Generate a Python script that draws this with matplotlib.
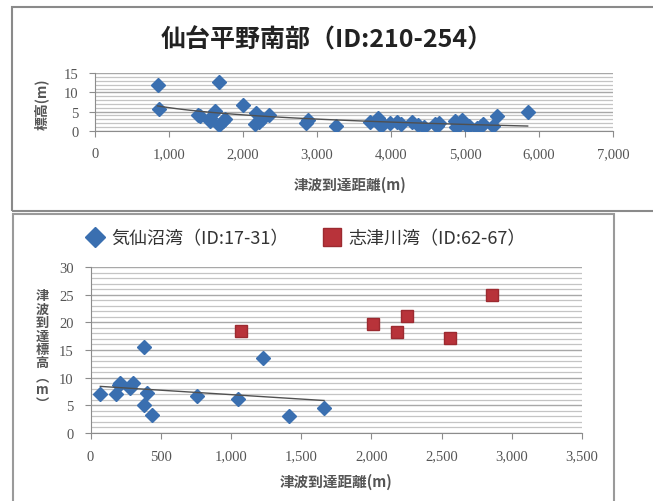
import numpy as np
import matplotlib
matplotlib.use("Agg")
import matplotlib.pyplot as plt
from matplotlib.patches import Rectangle
from matplotlib.ticker import MultipleLocator, FuncFormatter

plt.rcParams['font.family'] = ['Noto Sans CJK JP', 'DejaVu Sans']

# ── data ───────────────────────────────────────────────────────────────────────
sendai_x = [846, 868, 1390, 1420, 1552, 1560, 1620, 1669, 1678, 1732,
            1750, 2002, 2168, 2182, 2213, 2250, 2348, 2848, 2884, 3257,
            3716, 3830, 3842, 3861, 3986, 4077, 4131, 4284, 4369, 4446,
            4600, 4617, 4653, 4860, 4878, 4920, 4955, 5000, 5058, 5158,
            5220, 5248, 5383, 5432, 5847]
sendai_y = [11.9, 5.7, 4.2, 3.8, 3.2, 2.5, 5.1, 1.5, 12.6, 2.6,
            3.0, 6.6, 1.7, 4.6, 2.4, 3.0, 4.2, 2.0, 2.8, 1.2,
            2.2, 3.3, 2.9, 1.3, 2.0, 2.2, 1.75, 2.2, 1.5, 0.9,
            1.8, 1.3, 2.0, 2.6, 0.9, 1.5, 2.9, 1.75, 1.3, 0.6,
            1.3, 1.75, 1.3, 3.9, 5.0]

kesen_x = [70, 185, 205, 210, 278, 301, 378, 378, 399, 440, 759, 1048, 1226, 1415, 1663]
kesen_y = [7.0, 7.0, 8.7, 9.1, 8.1, 9.1, 15.5, 5.0, 7.3, 3.2, 6.6, 6.1, 13.5, 3.0, 4.5]

shizu_x = [1072, 2011, 2185, 2253, 2558, 2862]
shizu_y = [18.5, 19.7, 18.2, 21.1, 17.1, 24.9]

title_top = "仙台平野南部（ID:210-254）"
label_kesen = "気仙沼湾（ID:17-31）"
label_shizu = "志津川湾（ID:62-67）"
xlabel = "津波到達距離(m)"
ylabel_top = "標高(m)"
ylabel_bottom = "津\n波\n到\n達\n標\n高\n︵\nm\n︶"

BLUE = "#3a6fb0"
RED = "#b8333a"
GRID = "#c4c4c4"
GRID_MAJOR = "#a8a8a8"
TXT = "#555555"
SERIF = ['Liberation Serif', 'DejaVu Serif']

W, H = 653, 502
fig = plt.figure(figsize=(W / 100, H / 100), dpi=100)


def fx(px):
    return px / W


def fy(py):
    return 1 - py / H


# panel frames
fig.add_artist(Rectangle((fx(12), fy(212)), fx(660) - fx(12), fy(8) - fy(212),
                         transform=fig.transFigure, fill=False,
                         edgecolor="#8a8a8a", lw=1.5))
fig.add_artist(Rectangle((fx(13), fy(520)), fx(614) - fx(13), fy(215) - fy(520),
                         transform=fig.transFigure, fill=False,
                         edgecolor="#9a9a9a", lw=1.5))


def style_axes(ax, ymax, xstep, xmax):
    ax.set_ylim(0, ymax)
    ax.set_xlim(0, xmax)
    ax.yaxis.set_major_locator(MultipleLocator(5))
    ax.yaxis.set_minor_locator(MultipleLocator(1))
    ax.xaxis.set_major_locator(MultipleLocator(xstep))
    ax.xaxis.set_major_formatter(FuncFormatter(lambda v, p: f"{int(v):,}"))
    ax.grid(axis="y", which="minor", color=GRID, lw=0.9)
    ax.grid(axis="y", which="major", color=GRID_MAJOR, lw=1.0)
    ax.set_axisbelow(True)
    for s in ("top", "right"):
        ax.spines[s].set_visible(False)
    for s in ("left", "bottom"):
        ax.spines[s].set_color("#8c8c8c")
    ax.tick_params(which="major", length=4, color="#8c8c8c", labelcolor=TXT,
                   labelsize=10.5, pad=8)
    ax.tick_params(axis="y", which="minor", length=0)
    for lab in ax.get_xticklabels() + ax.get_yticklabels():
        lab.set_family(SERIF)


# ── top: 仙台平野南部 ───────────────────────────────────────────────────────────
ax1 = fig.add_axes([fx(95), fy(131.7), fx(613) - fx(95), fy(74.3) - fy(131.7)])
style_axes(ax1, 15, 1000, 7000)
ax1.plot(sendai_x, sendai_y, "D", color=BLUE, ms=7, mec=BLUE, zorder=3)
b, a = np.polyfit(np.log(sendai_x), sendai_y, 1)
xt = np.linspace(min(sendai_x), max(sendai_x), 100)
ax1.plot(xt, a + b * np.log(xt), color="#505050", lw=1.0, zorder=4)
for lab in ax1.get_xticklabels() + ax1.get_yticklabels():
    lab.set_family(SERIF)

fig.text(fx(327), fy(40), title_top, ha="center", va="center",
         fontsize=18, fontweight="bold", color="#222222")
fig.text(fx(350), fy(185), xlabel, ha="center", va="center",
         fontsize=10.5, fontweight="bold", color=TXT)
fig.text(fx(41), fy(104), ylabel_top, ha="center", va="center",
         rotation=90, fontsize=10, fontweight="bold", color=TXT)

# ── bottom: 気仙沼湾 / 志津川湾 ─────────────────────────────────────────────────
ax2 = fig.add_axes([fx(90.5), fy(434), fx(582) - fx(90.5), fy(268) - fy(434)])
style_axes(ax2, 30, 500, 3500)
ax2.plot(kesen_x, kesen_y, "D", color=BLUE, ms=7, mec=BLUE, zorder=3,
         label=label_kesen)
ax2.plot(shizu_x, shizu_y, "s", color=RED, ms=9, mec="#9c2a30", zorder=3,
         label=label_shizu)
m, c = np.polyfit(kesen_x, kesen_y, 1)
xl = np.array([min(kesen_x), max(kesen_x)])
ax2.plot(xl, m * xl + c, color="#505050", lw=1.0, zorder=4)
for lab in ax2.get_xticklabels() + ax2.get_yticklabels():
    lab.set_family(SERIF)

fig.legend(handles=ax2.get_lines()[:2], loc="center", ncol=2,
           bbox_to_anchor=(fx(307), fy(239)), frameon=False,
           fontsize=13, handlelength=0.8, handletextpad=0.5, columnspacing=2.0,
           markerscale=1.5, labelcolor="#333333")
fig.text(fx(336), fy(482), xlabel, ha="center", va="center",
         fontsize=10.5, fontweight="bold", color=TXT)
fig.text(fx(42), fy(350), ylabel_bottom, ha="center", va="center",
         fontsize=9.5, fontweight="bold", color=TXT, linespacing=0.95)

fig.savefig("out.png", dpi=100)
